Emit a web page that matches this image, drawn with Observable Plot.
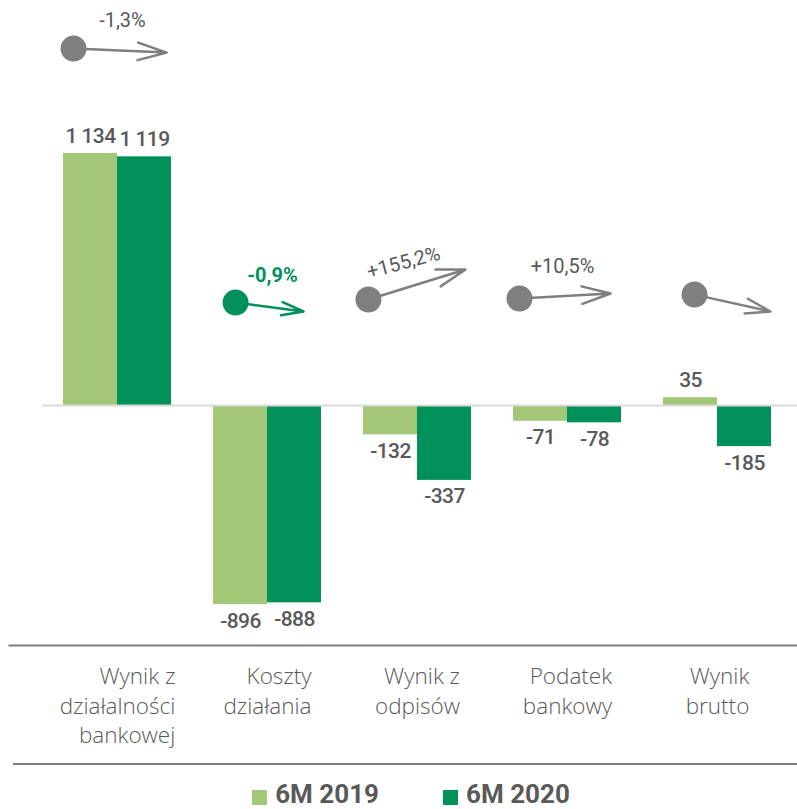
<!DOCTYPE html>
<html>
<head>
<meta charset="utf-8">
<script src="https://cdn.jsdelivr.net/npm/d3@7"></script>
<script src="https://cdn.jsdelivr.net/npm/@observablehq/plot@0.6"></script>
<style>
  body { margin: 0; background: #ffffff; }
  #chart svg { display: block; }
  #chart .vlabel text { letter-spacing: -0.6px; }
  #legend {
    margin-left: 13px;
    border-top: 2px solid #7f7f7f;
    height: 44px;
    display: flex;
    justify-content: center;
    align-items: center;
    padding-left: 12px;
    padding-top: 16px;
    box-sizing: border-box;
    font-family: Roboto, "Noto Sans", sans-serif;
    font-weight: 700;
    font-size: 26px;
    color: #595959;
    gap: 64px;
  }
  .item { display: flex; align-items: center; }
  .sw { width: 15px; height: 15px; margin-right: 8px; margin-top: 6px; }
</style>
</head>
<body>
<div id="chart"></div>
<div id="legend"></div>
<script>
// ---- data ----
const categories = ["Wynik z\ndziałalności\nbankowej", "Koszty\ndziałania", "Wynik z\nodpisów", "Podatek\nbankowy", "Wynik\nbrutto"];
const series = ["6M 2019", "6M 2020"];
const values2019 = [1134, -896, -132, -71, 35];
const values2020 = [1119, -888, -337, -78, -185];
const changeLabels = ["-1,3%", "-0,9%", "+155,2%", "+10,5%", ""];
const highlighted = [false, true, false, false, false];

// ---- annotation layout (offsets from category centre, levels in value units) ----
const arrowStartOffset = [-0.293, -0.213, -0.327, -0.32, -0.153];
const arrowStartLevel  = [1606, 463, 477, 481, 499];
const arrowEndOffset   = [0.327, 0.24, 0.32, 0.287, 0.353];
const arrowEndLevel    = [1588, 423, 612, 504, 423];
const labelOffset      = [0.033, 0.033, -0.093, -0.033, 0];
const labelLevel       = [1732, 585, 643, 625, 0];
const labelAngle       = [0, 0, -15, 0, 0];

// ---- styles ----
const colors = ["#a3c776", "#00915a"];
const gray = "#7f7f7f";
const textColor = "#595959";
const catFontName = "Open Sans";
const catFont = "'Open Sans', Lato, sans-serif";
const numFont = "Roboto, 'Noto Sans', sans-serif";
const catFontSize = 22.5;

const W = 797, H = 763;
const xDomain = [-0.5, categories.length - 0.5];
const xRange = [42, 792];
const pxPerUnit = (xRange[1] - xRange[0]) / (xDomain[1] - xDomain[0]);
const barW = 0.36;

const rows = categories.flatMap((c, i) => [
  {i, series: series[0], value: values2019[i], k: 0},
  {i, series: series[1], value: values2020[i], k: 1}
]);
const fmt = d3.formatLocale({decimal: ",", thousands: " ", grouping: [3], currency: ["", ""], minus: "-"}).format(",d");

// measure category label blocks so lines are right-aligned in a centred block
const ctx = document.createElement("canvas").getContext("2d");
ctx.font = `300 ${catFontSize}px '${catFontName}'`;
const halfW = categories.map(c => d3.max(c.split("\n"), l => ctx.measureText(l).width) / 2);

const anno = categories.map((c, i) => ({i, label: changeLabels[i], hi: highlighted[i]}));
const annoMarks = (hi, col, weight) => {
  const data = anno.filter(d => d.hi === hi);
  return [
    Plot.arrow(data, {
      x1: d => d.i + arrowStartOffset[d.i], y1: d => arrowStartLevel[d.i],
      x2: d => d.i + arrowEndOffset[d.i], y2: d => arrowEndLevel[d.i],
      stroke: col, strokeWidth: 2.5, headLength: 18, headAngle: 34
    }),
    Plot.dot(data, {
      x: d => d.i + arrowStartOffset[d.i], y: d => arrowStartLevel[d.i],
      r: 13, fill: col, stroke: "none"
    }),
    Plot.text(data.filter(d => d.label), {
      x: d => d.i + labelOffset[d.i], y: d => labelLevel[d.i],
      text: "label", rotate: d => labelAngle[d.i],
      fill: hi ? col : textColor, fontSize: 20, fontWeight: weight, fontFamily: numFont
    })
  ];
};

const chart = Plot.plot({
  width: W, height: H,
  marginTop: 0, marginLeft: 9, marginRight: 0, marginBottom: 118,
  x: {type: "linear", domain: xDomain, range: xRange, axis: null},
  y: {type: "linear", domain: [-1000, 1000], range: [405 + 222.22, 405 - 222.22], axis: null},
  color: {domain: series, range: colors},
  style: {fontFamily: numFont, background: "#ffffff", overflow: "visible"},
  marks: [
    Plot.frame({anchor: "bottom", stroke: gray, strokeWidth: 2}),
    Plot.rect(rows, {
      x1: d => d.i + (d.k === 0 ? -barW : 0),
      x2: d => d.i + (d.k === 0 ? 0 : barW),
      y1: 0, y2: "value", fill: "series"
    }),
    Plot.ruleY([0], {x1: xDomain[0], x2: xDomain[1] + 0.04, stroke: "#d9d9d9", strokeWidth: 2}),
    Plot.text(rows.filter(d => d.value >= 0), {
      x: d => d.i + (d.k === 0 ? -barW / 2 : barW / 2), y: "value",
      text: d => fmt(d.value), lineAnchor: "bottom", dy: -11, className: "vlabel",
      fill: textColor, fontSize: 21, fontWeight: 500, fontFamily: numFont
    }),
    Plot.text(rows.filter(d => d.value < 0), {
      x: d => d.i + (d.k === 0 ? -barW / 2 : barW / 2), y: "value",
      text: d => fmt(d.value), lineAnchor: "top", dy: 8, className: "vlabel",
      fill: textColor, fontSize: 21, fontWeight: 500, fontFamily: numFont
    }),
    ...annoMarks(false, gray, 400),
    ...annoMarks(true, colors[1], 700),
    Plot.text(categories.map((c, i) => ({i, c})), {
      x: d => d.i + halfW[d.i] / pxPerUnit, frameAnchor: "bottom",
      text: "c", textAnchor: "end", lineAnchor: "top", lineHeight: 1.31, dy: 18,
      fill: textColor, fontSize: catFontSize, fontWeight: 300, fontFamily: catFont
    })
  ]
});
document.getElementById("chart").appendChild(chart);

// legend
const legend = d3.select("#legend");
series.forEach((s, k) => {
  const it = legend.append("div").attr("class", "item");
  it.append("div").attr("class", "sw").style("background", colors[k]);
  it.append("span").text(s);
});
</script>
</body>
</html>
